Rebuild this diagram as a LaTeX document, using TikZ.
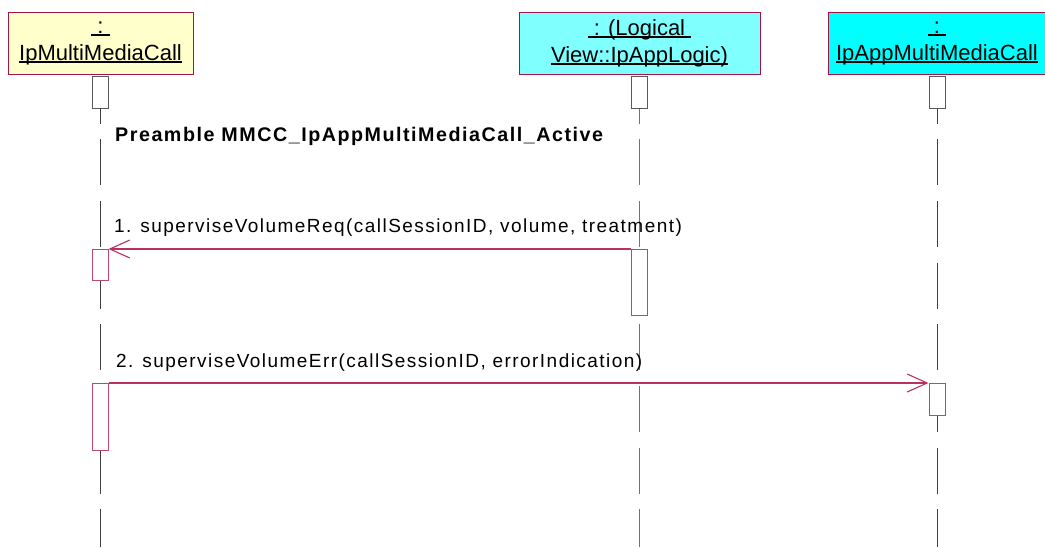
\documentclass[tikz,border=0pt]{standalone}
\usepackage{fontspec}
\setmainfont{Liberation Sans}
\newfontfamily\msgfont[LetterSpace=7.7]{Liberation Sans}
\usetikzlibrary{positioning,arrows.meta}
\definecolor{callfill}{RGB}{255,255,204}
\definecolor{logicfill}{RGB}{128,255,255}
\definecolor{appfill}{RGB}{0,255,255}
\definecolor{roleborder}{RGB}{160,20,70}
\definecolor{actborder}{RGB}{190,70,110}
\definecolor{msgline}{RGB}{185,50,95}
\newcommand{\undr}[1]{{\setbox0=\hbox{#1}\rlap{\rule[-2.5pt]{\wd0}{1.3pt}}\box0}}

\begin{document}
\begin{tikzpicture}[
    x=1pt, y=1pt,
    role/.style={
        rectangle,
        draw=roleborder,
        line width=1pt,
        minimum width=#1,
        minimum height=62pt,
        inner sep=0pt,
        align=center,
        font=\fontsize{22}{27}\selectfont
    },
    head/.style={rectangle, draw=black!65, fill=white, line width=1pt,
        minimum width=16pt, minimum height=32pt, inner sep=0pt},
    act/.style={rectangle, draw=actborder, fill=white, line width=1pt,
        minimum width=16pt, minimum height=#1, inner sep=0pt, anchor=north},
    lifeline/.style={black!75, line width=1pt,
        dash pattern=on 46pt off 15.7pt, dash phase=31pt},
    msg/.style={-{Straight Barb[length=20pt,width=18pt]}, draw=msgline, line width=1.1pt},
    msglabel/.style={font=\msgfont\fontsize{19}{23}\selectfont, inner sep=0pt, anchor=base west}
]
\useasboundingbox (0,0) rectangle (1045,-547);

\node[role=185pt, fill=callfill] (call) at (100.5,-43)
{\undr{\ :\ }\\\undr{IpMultiMediaCall}};
\node[role=241pt, fill=logicfill] (logic) at (639.5,-43)
{\undr{\ : (Logical\ }\\\undr{View::IpAppLogic)}};
\node[role=218pt, fill=appfill] (app) at (937,-43)
{\undr{\ :\ }\\\undr{IpAppMultiMediaCall}};

\node[head] (callhead) at (100,-92) {};
\node[head] (logichead) at (639,-92) {};
\node[head] (apphead) at (937,-92) {};

\coordinate (callend) at (100,-547);
\coordinate (logicend) at (639,-547);
\coordinate (append) at (937,-547);
\draw[lifeline] (callhead.south) -- (callend);
\draw[lifeline, black!55] (logichead.south) -- (logicend);
\draw[lifeline] (apphead.south) -- (append);

\node[msglabel, font=\msgfont\bfseries\fontsize{19.7}{23}\selectfont] (pre) at (115,-141)
{Preamble MMCC\_IpAppMultiMediaCall\_Active};

\node[act=31pt] (callact1) at (100,-249) {};
\node[act=66pt] (logicact) at (639,-249) {};
\node[act=67pt] (callact2) at (100,-383) {};
\node[act=32pt] (appact) at (937,-383) {};

\draw[msg] (logicact.north west) -- (callact1.north east)
    node[msglabel, pos=1, xshift=5pt, yshift=17pt] {1. superviseVolumeReq(callSessionID, volume, treatment)};
\draw[msg] (callact2.north east) -- (appact.north west)
    node[msglabel, pos=0, xshift=7pt, yshift=16pt] {2. superviseVolumeErr(callSessionID, errorIndication)};

\end{tikzpicture}
\end{document}
